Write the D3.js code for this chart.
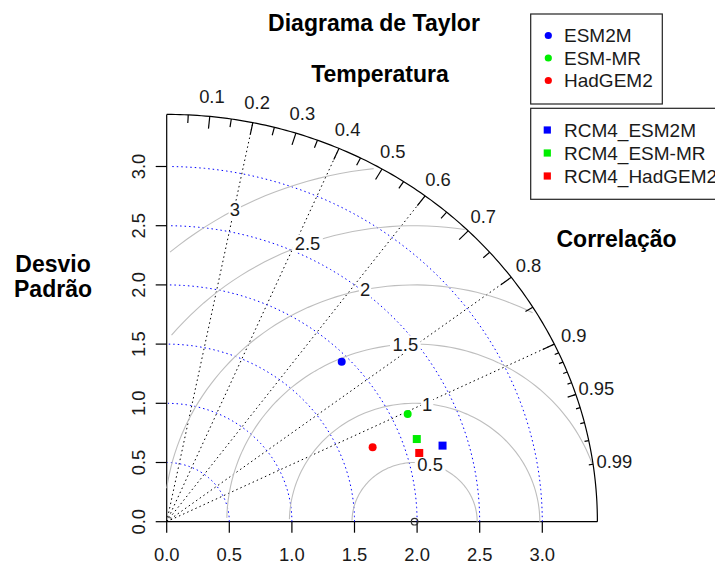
<!DOCTYPE html>
<html>
<head>
<meta charset="utf-8">
<script src="https://cdn.jsdelivr.net/npm/d3@7"></script>
<style>
  html, body { margin: 0; padding: 0; background: #fff; }
  svg { display: block; font-family: "Liberation Sans", Arial, sans-serif; }
</style>
</head>
<body>
<svg id="chart" width="715" height="565"></svg>
<script>
// Model statistics (standard deviation and correlation against observations)
const modelNames = ["ESM2M", "ESM-MR", "HadGEM2"];
const modelSd    = [1.944, 2.129, 1.761];
const modelCor   = [0.719, 0.904, 0.934];

const rcmNames = ["RCM4_ESM2M", "RCM4_ESM-MR", "RCM4_HadGEM2"];
const rcmSd    = [2.295, 2.116, 2.099];
const rcmCor   = [0.960, 0.944, 0.961];

const seriesColors = ["#0000ff", "#00ee00", "#ff0000"];

// Reference (observed) standard deviation and diagram extent
const refSd = 1.98;
const maxSd = 3.44;

const axisTicks   = [0, 0.5, 1.0, 1.5, 2.0, 2.5, 3.0];
const gammaLevels = [0.5, 1, 1.5, 2, 2.5, 3];
const corrLines   = [0.2, 0.4, 0.6, 0.8, 0.9];
const corrLabels  = [0.1, 0.2, 0.3, 0.4, 0.5, 0.6, 0.7, 0.8, 0.9, 0.95, 0.99];

const svg = d3.select("#chart");
const FS = 18.4;
const LFS = 19;

const x = d3.scaleLinear().domain([0, 3]).range([166.7, 542.3]);
const y = d3.scaleLinear().domain([0, 3]).range([521.7, 166.5]);
const line = d3.line().x(d => x(d[0])).y(d => y(d[1]));
const seqBy = (a, b, s) => { const out = []; for (let v = a; v <= b + 1e-9; v += s) out.push(v); return out; };

const g = svg.append("g");

// correlation rays
corrLines.forEach(c => {
  g.append("path")
    .attr("d", line([[0, 0], [maxSd * c, maxSd * Math.sqrt(1 - c * c)]]))
    .attr("fill", "none").attr("stroke", "#000").attr("stroke-width", 1)
    .attr("stroke-dasharray", "1.5,3");
});

// axis lines
g.append("path").attr("d", line([[0, 0], [0, maxSd]])).attr("stroke", "#000").attr("stroke-width", 1.2);
g.append("path").attr("d", line([[0, 0], [maxSd, 0]])).attr("stroke", "#000").attr("stroke-width", 1.2);

// x axis ticks and labels
axisTicks.forEach(t => {
  g.append("line").attr("x1", x(t)).attr("x2", x(t)).attr("y1", y(0)).attr("y2", y(0) + 11)
    .attr("stroke", "#000").attr("stroke-width", 1.2);
  g.append("text").attr("x", x(t)).attr("y", 561).attr("text-anchor", "middle")
    .attr("font-size", FS).attr("fill", "#1a1a1a").text(d3.format(".1f")(t));
});
// y axis ticks and labels
axisTicks.forEach(t => {
  g.append("line").attr("x1", x(0) - 11).attr("x2", x(0)).attr("y1", y(t)).attr("y2", y(t))
    .attr("stroke", "#000").attr("stroke-width", 1.2);
  g.append("text").attr("transform", `translate(${x(0) - 22},${y(t)}) rotate(-90)`)
    .attr("text-anchor", "middle").attr("font-size", FS).attr("fill", "#1a1a1a")
    .text(d3.format(".1f")(t));
});

// standard deviation arcs
axisTicks.filter(t => t > 0).forEach(r => {
  const pts = seqBy(0, Math.PI / 2, 0.03).map(a => [Math.cos(a) * r, Math.sin(a) * r]);
  g.append("path").attr("d", line(pts)).attr("fill", "none")
    .attr("stroke", "#0000ff").attr("stroke-width", 1).attr("stroke-dasharray", "1.5,3");
});

// centred RMS difference arcs with boxed labels
const angles = seqBy(0, Math.PI, 0.03);
const labelIdx = d3.range(gammaLevels.length).map(i => 45 + i * 5);
gammaLevels.forEach(gm => {
  const xc = angles.map(a => Math.cos(a) * gm + refSd);
  const yc = angles.map(a => Math.sin(a) * gm);
  let end = xc.findIndex(v => v < 0);
  end = end >= 0 ? end - 1 : angles.length - 1;
  let start = -1;
  xc.forEach((v, i) => { if (v * v + yc[i] * yc[i] > maxSd * maxSd) start = i; });
  start = start + 1;
  const pts = [];
  for (let i = start; i <= end; i++) pts.push([xc[i], yc[i]]);
  g.append("path").attr("d", line(pts)).attr("fill", "none")
    .attr("stroke", "#bebebe").attr("stroke-width", 1.1);
});
gammaLevels.forEach((gm, gi) => {
  const a = angles[labelIdx[gi] - 1];
  const lx = x(Math.cos(a) * gm + refSd), ly = y(Math.sin(a) * gm);
  const lg = g.append("g");
  const rect = lg.append("rect").attr("fill", "#fff");
  const txt = lg.append("text").attr("x", lx).attr("y", ly).attr("dy", "0.36em")
    .attr("text-anchor", "middle").attr("font-size", FS).attr("fill", "#1a1a1a").text(String(gm));
  const bb = txt.node().getBBox();
  const w = bb.width * 1.2, h = FS * 0.75 * 1.3;
  rect.attr("x", lx - w / 2).attr("y", ly - h / 2).attr("width", w).attr("height", h);
});

// outer correlation arc
const outer = seqBy(0, Math.PI / 2, 0.01).map(a => [Math.cos(a) * maxSd, Math.sin(a) * maxSd]);
outer.push([0, maxSd]);
g.append("path").attr("d", line(outer)).attr("fill", "none").attr("stroke", "#000").attr("stroke-width", 1.2);

// tick marks on the correlation arc
const tickSet = (vals, inner) => vals.forEach(c => {
  const s = Math.sqrt(1 - c * c);
  g.append("path").attr("d", line([[c * maxSd, s * maxSd], [c * inner * maxSd, s * inner * maxSd]]))
    .attr("stroke", "#000").attr("stroke-width", 1.2);
});
tickSet(seqBy(0.1, 0.9, 0.1), 0.97);
tickSet(seqBy(0.05, 0.95, 0.1), 0.98);
tickSet(seqBy(0.91, 0.99, 0.01), 0.99);

// reference point
g.append("circle").attr("cx", x(refSd)).attr("cy", y(0)).attr("r", 3.3)
  .attr("fill", "none").attr("stroke", "#333").attr("stroke-width", 1.2);

// correlation labels
corrLabels.forEach(c => {
  const s = Math.sqrt(1 - c * c);
  g.append("text").attr("x", x(c * 1.05 * maxSd)).attr("y", y(s * 1.05 * maxSd)).attr("dy", "0.36em")
    .attr("text-anchor", "middle").attr("font-size", FS).attr("fill", "#1a1a1a").text(String(c));
});

// model points
modelNames.forEach((n, i) => {
  g.append("circle")
    .attr("cx", x(modelSd[i] * modelCor[i]))
    .attr("cy", y(modelSd[i] * Math.sqrt(1 - modelCor[i] ** 2)))
    .attr("r", 4).attr("fill", seriesColors[i]);
});
rcmNames.forEach((n, i) => {
  const px = x(rcmSd[i] * rcmCor[i]), py = y(rcmSd[i] * Math.sqrt(1 - rcmCor[i] ** 2));
  g.append("rect").attr("x", px - 4).attr("y", py - 4).attr("width", 8).attr("height", 8)
    .attr("fill", seriesColors[i]);
});

// titles
const bold = (tx, ty, t, anchor = "middle") => svg.append("text").attr("x", tx).attr("y", ty)
  .attr("text-anchor", anchor).attr("font-size", 23).attr("font-weight", "bold").attr("fill", "#000").text(t);
bold(374, 31, "Diagrama de Taylor");
bold(380, 81.5, "Temperatura");
bold(556.5, 247, "Correlação", "start");
bold(53, 271.5, "Desvio");
bold(53, 296.5, "Padrão");

// legends
const legend1 = svg.append("g");
legend1.append("rect").attr("x", 530.7).attr("y", 14).attr("width", 131.6).attr("height", 90)
  .attr("fill", "#fff").attr("stroke", "#222").attr("stroke-width", 1.2);
modelNames.forEach((n, i) => {
  const cy = 35.5 + i * 22.5;
  legend1.append("circle").attr("cx", 548.3).attr("cy", cy).attr("r", 3.6).attr("fill", seriesColors[i]);
  legend1.append("text").attr("x", 564).attr("y", cy).attr("dy", "0.36em")
    .attr("font-size", LFS).attr("fill", "#1a1a1a").text(n);
});
const legend2 = svg.append("g");
legend2.append("rect").attr("x", 530.7).attr("y", 108.3).attr("width", 200).attr("height", 91)
  .attr("fill", "#fff").attr("stroke", "#222").attr("stroke-width", 1.2);
rcmNames.forEach((n, i) => {
  const cy = 130 + i * 23;
  legend2.append("rect").attr("x", 547.3 - 3.6).attr("y", cy - 3.6).attr("width", 7.2).attr("height", 7.2)
    .attr("fill", seriesColors[i]);
  legend2.append("text").attr("x", 564).attr("y", cy).attr("dy", "0.36em")
    .attr("font-size", LFS).attr("fill", "#1a1a1a").text(n);
});
</script>
</body>
</html>
